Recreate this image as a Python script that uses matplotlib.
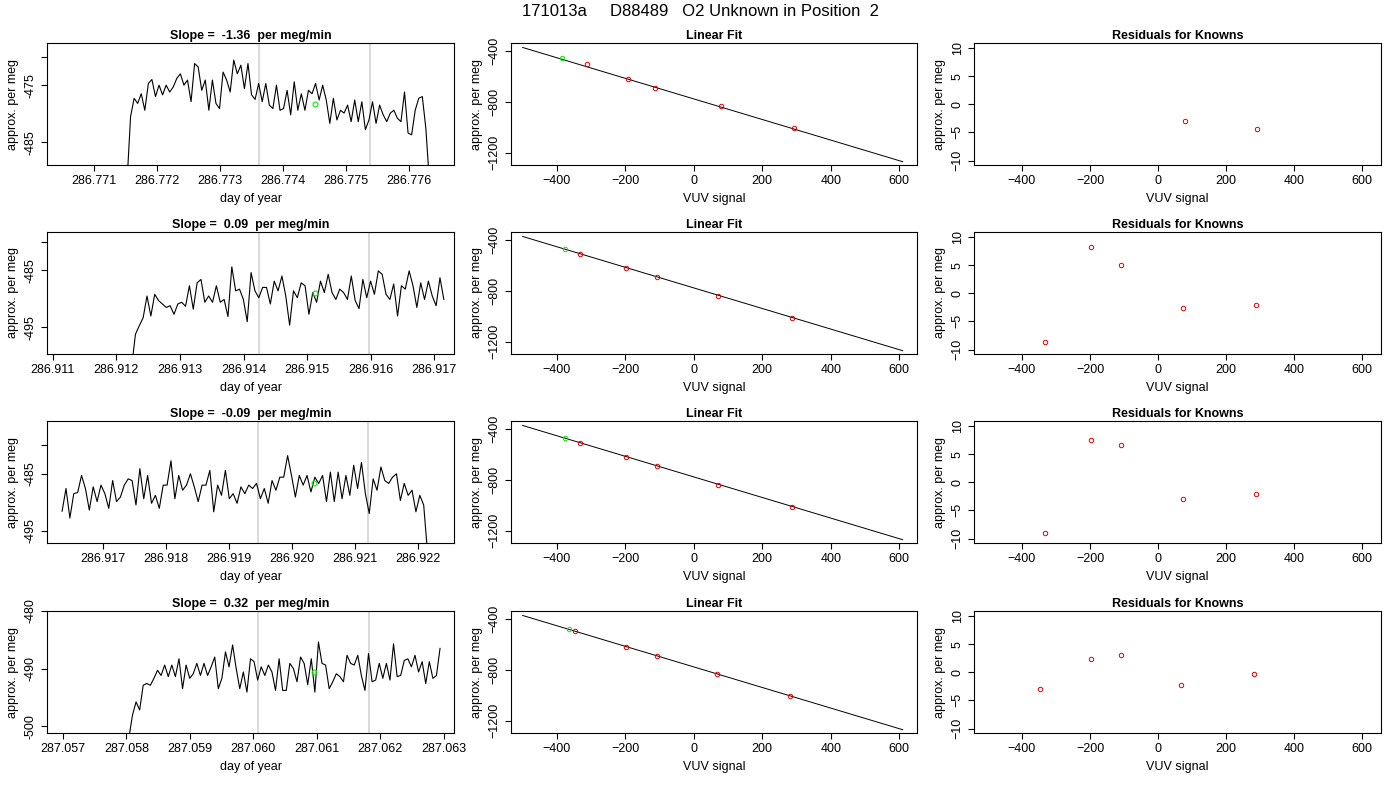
import numpy as np
import matplotlib
matplotlib.use("Agg")
import matplotlib.pyplot as plt

plt.rcParams['font.family'] = ['Liberation Sans', 'DejaVu Sans']

title = "171013a     D88489   O2 Unknown in Position  2"
slopes = ["-1.36", "0.09", "-0.09", "0.32"]

# time series panels: (start day, end day, values)
ts1_start, ts1_end = 286.77152, 286.77632
ts1 = [-492, -480.5, -477.3, -478.2, -476.5, -479.4, -474.7, -474.0, -477.0, -475.0, -476.7, -475, -476.2, -475.3,
       -473.8, -473.0, -475, -474.1, -477.9, -471.2, -471.8, -475.9, -474.1, -479.4, -474.1, -478.2, -479.1, -472.7,
       -474.1, -476.2, -470.6, -473.0, -471.5, -475.6, -471.2, -476.7, -477.5, -474.7, -477.9, -474.7, -478.5, -479.1,
       -475, -479.4, -479.1, -475.9, -480.2, -474.4, -479.4, -476.5, -479.4, -475.9, -476.5, -474.7, -477.6, -475,
       -477.6, -481.7, -477.3, -481.1, -479.4, -479.9, -478.5, -481.4, -477.6, -481.4, -477.9, -482.8, -481.1, -477.9,
       -481.7, -478.5, -480.2, -481.4, -479.9, -479.4, -480.8, -481.4, -476.2, -483.4, -483.7, -479.4, -477.3, -477.0,
       -482.6, -492]
ts2_start, ts2_end = 286.91224, 286.91715
ts2 = [-502, -496.2, -494.7, -493.3, -489.5, -493.0, -489.2, -490.3, -490.9, -491.5, -491.2, -492.7, -490.9, -490.6,
       -491.3, -487.7, -491.8, -487.2, -486.6, -490.6, -489.5, -490.6, -487.7, -490.6, -490.1, -493.1, -484.4, -488.6,
       -488.3, -490.1, -494.0, -485.4, -488.6, -489.8, -488.0, -488.0, -490.9, -486.9, -488.6, -486.0, -489.5, -494.6,
       -488.6, -489.8, -487.2, -487.7, -492.7, -488.9, -490.6, -486.9, -488.9, -485.7, -488.9, -490.1, -488.3, -488.9,
       -490.1, -486.0, -490.3, -491.7, -486.6, -489.8, -486.9, -489.2, -485.1, -485.7, -489.2, -490.1, -487.4, -493.0,
       -487.7, -488.3, -485.1, -487.7, -491.5, -487.2, -490.1, -486.9, -489.5, -491.2, -486.3, -490.1]
ts3_start, ts3_end = 286.91635, 286.92216
ts3 = [-491.6, -487.6, -492.8, -488.5, -488.3, -485.3, -487.6, -491.4, -487.3, -489.9, -487.0, -488.5, -491.1, -486.2,
       -489.9, -489.1, -487.0, -485.9, -486.2, -490.5, -484.1, -489.4, -485.3, -490.2, -488.8, -491.1, -487.0, -487.0,
       -482.7, -489.4, -485.3, -487.9, -487.0, -485.0, -487.3, -489.9, -487.0, -487.0, -484.4, -491.7, -487.0, -488.8,
       -484.4, -489.4, -488.5, -490.2, -487.3, -488.5, -487.0, -487.6, -486.7, -489.4, -487.6, -490.2, -486.2, -487.9,
       -485.6, -485.6, -481.8, -485.3, -489.1, -485.3, -487.0, -485.3, -488.2, -485.6, -486.7, -485.3, -489.9, -484.7,
       -489.9, -484.7, -489.4, -485.3, -488.8, -483.5, -487.6, -483.0, -488.5, -492.0, -485.9, -487.9, -483.8, -486.2,
       -486.7, -485.6, -485.0, -489.7, -486.7, -488.8, -487.9, -491.7, -488.8, -490.5, -499]
ts4_start, ts4_end = 287.05804, 287.06294
ts4 = [-502, -498.1, -495.8, -497.2, -492.9, -492.6, -492.9, -491.7, -490.3, -491.2, -489.4, -491.4, -489.4, -491.4,
       -488.3, -493.5, -489.4, -491.7, -490.9, -489.1, -491.2, -489.1, -491.2, -489.7, -488.0, -493.5, -491.7, -487.1,
       -489.7, -485.9, -490.0, -493.5, -490.6, -494.1, -488.3, -488.8, -492.0, -489.7, -491.2, -489.4, -490.6, -493.8,
       -488.3, -493.8, -493.8, -489.1, -490.0, -492.3, -488.0, -489.1, -492.8, -488.3, -494.1, -485.4, -489.1, -489.4,
       -493.5, -492.3, -490.9, -491.4, -492.3, -487.7, -489.1, -489.4, -487.7, -491.2, -493.8, -487.4, -492.3, -492.0,
       -489.1, -491.7, -489.1, -492.0, -485.7, -491.4, -491.2, -488.6, -488.3, -489.7, -487.7, -490.6, -488.8, -492.6,
       -488.8, -491.7, -491.2, -486.5]

ts_list = [(ts1_start, ts1_end, ts1), (ts2_start, ts2_end, ts2), (ts3_start, ts3_end, ts3), (ts4_start, ts4_end, ts4)]
xlims_ts = [(286.77025, 286.77671), (286.91091, 286.91731), (286.91611, 286.92258), (287.05675, 287.06316)]
ylims_ts = [(-489.0, -467.6), (-499.65, -478.3), (-497.2, -475.7), (-501.2, -480.0)]
xticks_ts = [np.arange(286.771, 286.7765, 0.001), np.arange(286.911, 286.9175, 0.001),
             np.arange(286.917, 286.9225, 0.001), np.arange(287.057, 287.0635, 0.001)]
yticks_ts = [([-470, -475, -485], ['', '-475', '-485']),
             ([-480, -485, -495], ['', '-485', '-495']),
             ([-480, -485, -495], ['', '-485', '-495']),
             ([-480, -490, -500], ['-480', '-490', '-500'])]
vlines = [(286.77362, 286.77538), (286.91424, 286.91598), (286.91947, 286.92122), (287.06008, 287.06182)]
green_ts = [(286.7745, -478.3), (286.91513, -488.9), (286.92035, -486.6), (287.06095, -490.6)]

# linear fit panels (first point of each row is the green one)
fit_x = [[-385, -313, -192, -113, 78, 292],
         [-375, -333, -197, -108, 72, 288],
         [-375, -333, -197, -108, 72, 288],
         [-365, -348, -197, -108, 68, 282]]
fit_y = [[-460, -503, -626, -692, -832, -1005],
         [-476, -510, -620, -693, -838, -1013],
         [-476, -510, -621, -692, -839, -1013],
         [-484, -498, -620, -693, -835, -1008]]
line_x = [-500, 610]
line_y = [-375, -1270]
resid_x = [[78, 292],
           [-333, -197, -108, 72, 288],
           [-333, -197, -108, 72, 288],
           [-348, -197, -108, 68, 282]]
resid_y = [[-3.0, -4.4],
           [-8.7, 8.2, 5.0, -2.6, -2.0],
           [-9.0, 7.6, 6.6, -3.0, -2.0],
           [-3.0, 2.4, 3.1, -2.2, -0.3]]

W, H = 1400, 800
fig = plt.figure(figsize=(14, 8), dpi=100)
cols = [(47, 454), (511, 917), (974, 1381)]
rows = [(43, 165), (232, 354), (421, 543), (611, 733)]

def ax_at(c, r):
    x0, x1 = c; y0, y1 = r
    return fig.add_axes([x0 / W, 1 - y1 / H, (x1 - x0) / W, (y1 - y0) / H])

fs = 9
def style(ax):
    for s in ax.spines.values():
        s.set_linewidth(0.8)
    ax.tick_params(labelsize=fs, length=4, width=0.8)
    for lab in ax.get_yticklabels():
        lab.set_rotation(90); lab.set_va('center')

for i, r in enumerate(rows):
    # time series
    ax = ax_at(cols[0], r)
    s, e, v = ts_list[i]
    t = np.linspace(s, e, len(v))
    for vl in vlines[i]:
        ax.axvline(vl, color='#d3d3d3', lw=1.2)
    ax.plot(t, v, color='black', lw=0.8)
    ax.plot(*green_ts[i], 'o', mfc='none', mec='#00ee00', ms=3.5, mew=0.8)
    ax.set_xlim(*xlims_ts[i]); ax.set_ylim(*ylims_ts[i])
    ax.set_xticks(xticks_ts[i]); ax.set_xticklabels([f"{x:.3f}" for x in xticks_ts[i]])
    ax.set_yticks(yticks_ts[i][0]); ax.set_yticklabels(yticks_ts[i][1])
    ax.set_xlabel('day of year', fontsize=fs)
    ax.set_ylabel('approx. per meg', fontsize=fs)
    ax.set_title(f"Slope =  {slopes[i]}  per meg/min", fontsize=fs, fontweight='bold', pad=3)
    style(ax)

    # linear fit
    ax = ax_at(cols[1], r)
    ax.plot(line_x, line_y, color='black', lw=0.7)
    ax.plot(fit_x[i][1:], fit_y[i][1:], 'o', mfc='none', mec='#dd0000', ms=3.2, mew=0.7)
    ax.plot(fit_x[i][0], fit_y[i][0], 'o', mfc='none', mec='#00ee00', ms=3.2, mew=0.7)
    ax.set_xlim(-534, 652); ax.set_ylim(-1296, -340)
    ax.set_xticks([-400, -200, 0, 200, 400, 600])
    ax.set_yticks([-400, -800, -1200])
    ax.set_xlabel('VUV signal', fontsize=fs)
    ax.set_ylabel('approx. per meg', fontsize=fs)
    ax.set_title('Linear Fit', fontsize=fs, fontweight='bold', pad=3)
    style(ax)

    # residuals
    ax = ax_at(cols[2], r)
    ax.plot(resid_x[i], resid_y[i], 'o', mfc='none', mec='#dd0000', ms=3.2, mew=0.7)
    ax.set_xlim(-541, 655); ax.set_ylim(-10.8, 10.9)
    ax.set_xticks([-400, -200, 0, 200, 400, 600])
    ax.set_yticks([-10, -5, 0, 5, 10])
    ax.set_xlabel('VUV signal', fontsize=fs)
    ax.set_ylabel('approx. per meg', fontsize=fs)
    ax.set_title('Residuals for Knowns', fontsize=fs, fontweight='bold', pad=3)
    style(ax)

fig.text(0.5, 1 - 12 / H, title, ha='center', va='center', fontsize=12)
fig.savefig('out.png', dpi=100)
